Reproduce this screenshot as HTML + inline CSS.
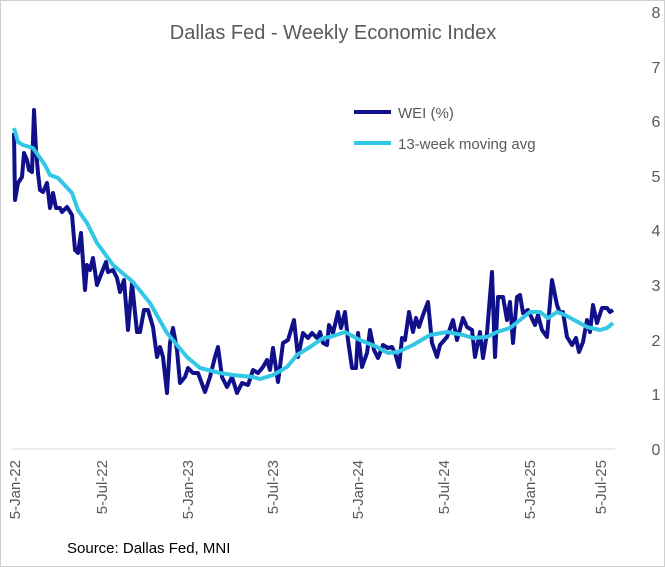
<!DOCTYPE html>
<html><head><style>body{margin:0;background:#fff}svg{display:block}text{font-family:"Liberation Sans",sans-serif}</style></head><body>
<svg width="665" height="567" viewBox="0 0 665 567">
<rect x="0.5" y="0.5" width="664" height="566" fill="#fff" stroke="#d0d0d0"/>
<text x="333" y="39" font-size="20" fill="#595959" text-anchor="middle">Dallas Fed - Weekly Economic Index</text>
<line x1="12" y1="449" x2="615" y2="449" stroke="#d9d9d9" stroke-width="1"/>
<g font-size="16" fill="#595959" text-anchor="middle">
<text x="656" y="18">8</text><text x="656" y="73">7</text><text x="656" y="127">6</text><text x="656" y="182">5</text><text x="656" y="236">4</text><text x="656" y="291">3</text><text x="656" y="346">2</text><text x="656" y="400">1</text><text x="656" y="455">0</text>
</g>
<g font-size="15" fill="#595959" text-anchor="end">
<text transform="translate(20,460) rotate(-90)">5-Jan-22</text>
<text transform="translate(107,460) rotate(-90)">5-Jul-22</text>
<text transform="translate(193,460) rotate(-90)">5-Jan-23</text>
<text transform="translate(278,460) rotate(-90)">5-Jul-23</text>
<text transform="translate(363,460) rotate(-90)">5-Jan-24</text>
<text transform="translate(449,460) rotate(-90)">5-Jul-24</text>
<text transform="translate(535,460) rotate(-90)">5-Jan-25</text>
<text transform="translate(606,460) rotate(-90)">5-Jul-25</text>
</g>
<polyline fill="none" stroke="#10118a" stroke-width="4" stroke-linejoin="round" points="14,133 15,200 18,183 22,177 24,153 27,160 29,170 32,172 34,110 36,150 38,173 40,190 43,192 47,183 50,208 53,193 56,208 60,208 62,212 67,207 72,215 75,250 78,253 81,233 85,290 87,265 90,270 93,258 97,285 102,272 106,262 108,272 113,270 117,278 120,292 124,280 128,330 132,283 137,332 140,332 144,310 148,310 153,327 157,357 160,347 163,357 167,393 170,343 173,328 177,350 180,383 185,377 188,368 193,373 198,373 205,392 210,377 215,357 218,347 222,377 227,387 232,377 237,393 242,383 248,385 253,370 258,373 263,367 267,360 270,370 273,348 278,382 283,343 288,340 294,320 298,357 303,333 308,338 312,333 317,338 320,332 323,343 327,345 329,325 333,333 338,312 341,328 345,312 348,340 352,368 356,368 358,333 362,367 367,353 370,330 374,350 378,358 383,345 388,348 392,347 395,353 399,367 402,338 405,340 409,312 413,332 416,318 419,327 423,315 428,302 432,343 437,357 440,345 447,337 453,320 457,340 463,318 467,327 472,330 475,357 480,332 483,358 487,333 492,272 495,357 498,297 503,297 507,320 510,302 513,343 517,297 520,295 523,313 528,310 535,325 538,315 542,330 547,337 552,280 557,305 560,313 563,312 567,337 572,345 576,338 579,352 583,342 587,320 590,332 593,305 597,323 602,308 607,308 610,312 613,310"/>
<polyline fill="none" stroke="#33c7e6" stroke-width="4" stroke-linejoin="round" points="14,128 18,142 23,145 33,148 38,155 45,165 50,175 58,178 72,193 78,210 87,223 97,243 113,265 133,282 150,303 167,333 187,357 200,368 220,373 233,375 253,377 260,379 273,375 287,367 297,355 310,347 323,338 330,337 345,332 360,340 377,347 388,353 398,352 413,345 430,335 447,332 463,335 473,338 487,337 497,332 510,328 520,320 530,312 540,312 548,318 557,312 565,315 587,327 600,330 607,328 613,323"/>
<line x1="354" y1="112" x2="391" y2="112" stroke="#10118a" stroke-width="4"/>
<text x="398" y="118" font-size="15" fill="#595959">WEI (%)</text>
<line x1="354" y1="143" x2="391" y2="143" stroke="#33c7e6" stroke-width="4"/>
<text x="398" y="149" font-size="15" fill="#595959">13-week moving avg</text>
<text x="67" y="553" font-size="15" fill="#000">Source: Dallas Fed, MNI</text>
</svg>
</body></html>
